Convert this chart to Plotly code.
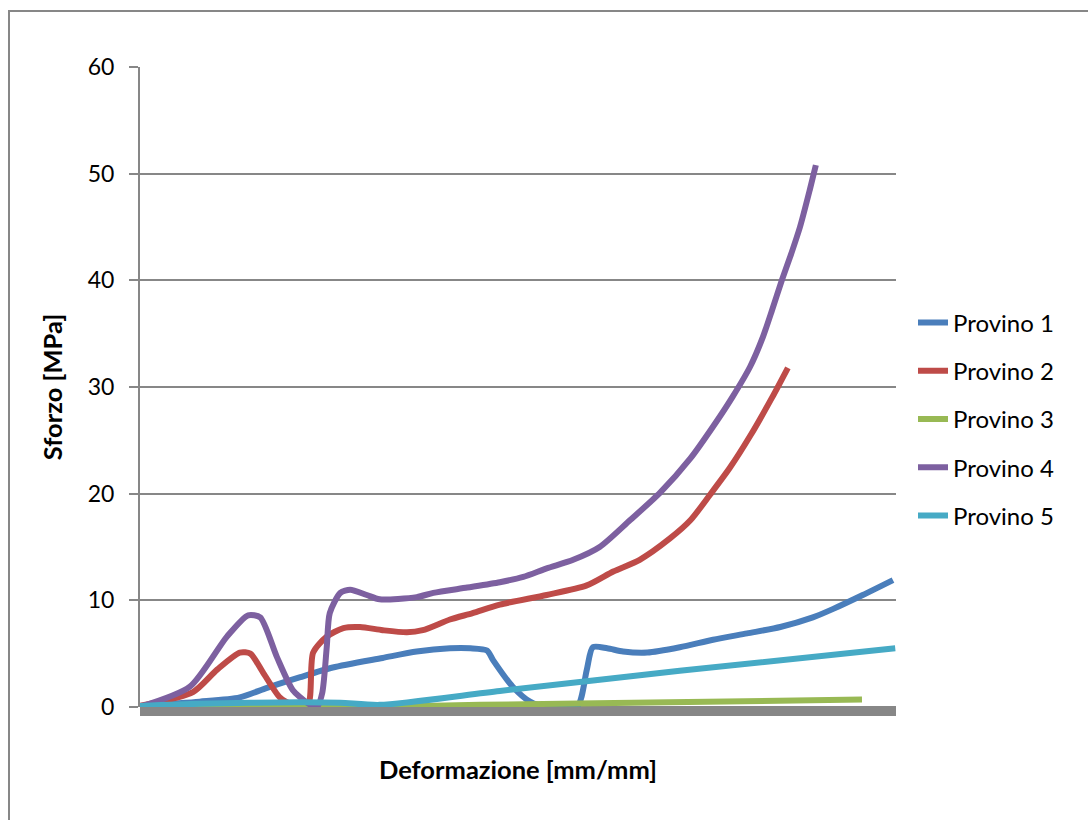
import plotly.graph_objects as go

# Strain axis (arbitrary units, category index 0..100) and stress values [MPa]
p1_x = [0, 7.9, 13.2, 16.8, 21.2, 25.5, 32.1, 36.6, 41.0, 43.7, 45.9, 46.7, 49.3, 51.6, 53.8, 57.8,
        59.1, 59.9, 61.8, 63.9, 67.1, 71.4, 75.8, 80.3, 84.7, 89.0, 91.7, 95.6, 99.6]
p1_y = [0.1, 0.5, 0.9, 1.8, 2.8, 3.7, 4.6, 5.2, 5.5, 5.5, 5.3, 4.4, 1.9, 0.5, 0.0, 0.0,
        3.5, 5.6, 5.5, 5.2, 5.1, 5.6, 6.3, 6.9, 7.5, 8.4, 9.2, 10.5, 11.9]

p2_x = [0, 7.0, 10.2, 13.2, 14.6, 16.3, 18.5, 20.2, 22.2, 22.9, 24.7, 26.9, 29.1, 32.1, 35.3, 37.4,
        41.0, 44.0, 47.6, 53.8, 59.1, 62.6, 66.1, 70.1, 72.8, 75.4, 78.0, 80.7, 83.6, 85.7]
p2_y = [0.1, 1.4, 3.5, 5.1, 5.0, 3.2, 0.9, 0.2, 0.2, 5.1, 6.6, 7.4, 7.5, 7.2, 7.0, 7.2,
        8.2, 8.8, 9.6, 10.5, 11.4, 12.7, 13.8, 15.8, 17.5, 19.9, 22.4, 25.4, 29.0, 31.8]

p3_x = [0, 21.2, 31.7, 45.0, 70.0, 95.5]
p3_y = [0.0, 0.05, 0.05, 0.2, 0.45, 0.7]

p4_x = [0, 6.6, 11.5, 14.3, 15.9, 18.1, 20.2, 22.1, 23.4, 24.1, 24.7, 25.1, 26.5, 27.8, 30.0, 31.7,
        36.6, 38.8, 43.3, 47.6, 50.7, 53.8, 57.3, 60.8, 64.8, 68.8, 72.8, 76.1, 78.4, 80.7, 82.4,
        83.6, 84.9, 86.0, 87.3, 88.6, 89.4]
p4_y = [0.0, 1.9, 6.6, 8.6, 8.4, 4.7, 1.6, 0.4, 0.0, 1.3, 5.6, 8.8, 10.7, 11.0, 10.5, 10.1,
        10.3, 10.7, 11.2, 11.7, 12.2, 13.0, 13.8, 15.0, 17.5, 20.1, 23.3, 26.6, 29.1, 31.9, 34.7,
        37.2, 40.0, 42.2, 45.0, 48.5, 50.8]

p5_x = [0, 7.9, 21.2, 26.5, 31.7, 47.6, 71.4, 99.9]
p5_y = [0.1, 0.3, 0.45, 0.4, 0.2, 1.5, 3.4, 5.5]

names = ["Provino 1", "Provino 2", "Provino 3", "Provino 4", "Provino 5"]
colors = ["#4A7EBB", "#BE4B48", "#98B954", "#7D60A0", "#46AAC5"]
y_ticks = [0, 10, 20, 30, 40, 50, 60]

series = [(p1_x, p1_y), (p2_x, p2_y), (p3_x, p3_y), (p4_x, p4_y), (p5_x, p5_y)]

W, H = 1088, 820
L, R, T, B = 140, 896, 67, 707
pw, ph = R - L, B - T

def px(x):
    return (x - L) / pw

def py(y):
    return (B - y) / ph

fig = go.Figure()
for i, ((xs, ys), n, c) in enumerate(zip(series, names, colors)):
    fig.add_trace(go.Scatter(x=xs, y=ys, mode="lines", name=n, legendgroup=str(i),
                             line=dict(color=c, width=6, shape="spline", smoothing=0.7)))

FONT = "Lato"
grey = "#878787"
fig.update_layout(
    width=W, height=H,
    margin=dict(l=L, r=W - R, t=T, b=H - B),
    paper_bgcolor="white", plot_bgcolor="white",
    font=dict(family=FONT, size=23, color="black"),
    showlegend=True,
    legend=dict(x=px(913), y=py(419), xanchor="left", yanchor="middle",
                traceorder="grouped", tracegroupgap=14,
                font=dict(family=FONT, size=24, color="black"),
                bgcolor="rgba(0,0,0,0)"),
    xaxis=dict(range=[0, 100], showgrid=False, zeroline=False, showticklabels=False,
               showline=False, ticks="",
               title=dict(text="<b>Deformazione [mm/mm]</b>", standoff=54,
                          font=dict(family=FONT, size=25.5, color="black"))),
    yaxis=dict(range=[0, 60], tickvals=y_ticks, showgrid=True, gridcolor=grey, gridwidth=2,
               zeroline=False, showline=True, linecolor=grey, linewidth=2,
               ticks="outside", ticklen=9, tickwidth=2, tickcolor=grey,
               ticklabelstandoff=10,
               tickfont=dict(family=FONT, size=23, color="black"),
               title=dict(text="<b>Sforzo [MPa]</b>", standoff=18,
                          font=dict(family=FONT, size=25.5, color="black"))),
    shapes=[
        dict(type="rect", xref="paper", yref="paper", x0=0, x1=1, y0=py(716), y1=py(706),
             fillcolor=grey, line=dict(width=0), layer="below"),
        dict(type="rect", xref="paper", yref="paper", x0=px(9), x1=px(1200), y0=py(900), y1=py(11),
             fillcolor="rgba(0,0,0,0)", line=dict(color=grey, width=2)),
    ],
)

fig.write_html("out.html")
